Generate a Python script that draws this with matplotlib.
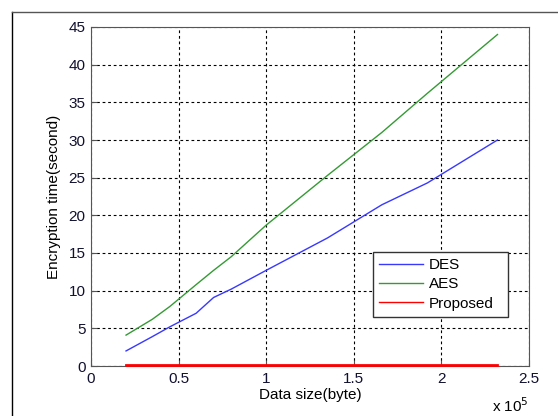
import numpy as np
import matplotlib
matplotlib.use('Agg')
import matplotlib.pyplot as plt
from matplotlib.lines import Line2D

plt.rcParams['font.family'] = ['Liberation Sans', 'DejaVu Sans']

## data (x in units of 1e5 bytes)
data_size = [0.20, 0.35, 0.45, 0.60, 0.70, 0.80, 1.00, 1.35, 1.66, 1.92, 2.32]
des_time = [2.0, 3.9, 5.2, 7.0, 9.1, 10.2, 12.7, 17.0, 21.4, 24.3, 30.0]
aes_time = [4.1, 6.2, 7.9, 10.8, 12.7, 14.5, 18.7, 25.3, 31.0, 36.2, 44.0]
proposed_time = [0.15, 0.15, 0.15, 0.15, 0.15, 0.15, 0.15, 0.15, 0.15, 0.15, 0.15]

fs = 11

fig = plt.figure(figsize=(5.58, 4.16), dpi=100)
ax = fig.add_axes([91/558, 50/416, 438/558, 339/416])

ax.plot(data_size, des_time, color='#3838ff', lw=1, label='DES')
ax.plot(data_size, aes_time, color='#359a35', lw=1, label='AES')
ax.plot(data_size, proposed_time, color='#ff0000', lw=2, label='Proposed',
        zorder=5, clip_on=False)

ax.set_xlim(0, 2.5)
ax.set_ylim(0, 45)
ax.set_xticks(np.arange(0, 2.51, 0.5))
ax.set_xticklabels(['0', '0.5', '1', '1.5', '2', '2.5'])
ax.set_yticks(np.arange(0, 46, 5))
ax.grid(True, color='black', linestyle=(0, (2.5, 2.5)), lw=0.8)
ax.tick_params(direction='in', length=4, labelsize=fs, colors='#555555', labelcolor='#101030', pad=4)
for s in ax.spines.values():
    s.set_color('#555555')

ax.set_xlabel('Data size(byte)', fontsize=fs, labelpad=2)
ax.set_ylabel('Encryption time(second)', fontsize=fs, labelpad=5)
ax.text(2.5, -4.0, r'x 10$^{5}$', ha='right', va='top', fontsize=fs)

leg = ax.legend(loc='lower left', bbox_to_anchor=(0.644, 0.145, 0.308, 0.19), mode='expand',
                borderaxespad=0, fancybox=False, edgecolor='#333333', framealpha=1, fontsize=fs,
                handlelength=2.9, borderpad=0.4, labelspacing=0.35, handletextpad=0.35)
leg.get_frame().set_linewidth(1)
for h in leg.get_lines():
    h.set_linewidth(1)

# outer frame of the figure window
fig.add_artist(Line2D([12/558, 12/558], [0, 1 - 12/416], color='black', lw=1))
fig.add_artist(Line2D([12/558, 1], [1 - 12/416, 1 - 12/416], color='#555555', lw=1))

fig.savefig('out.png', dpi=100)
